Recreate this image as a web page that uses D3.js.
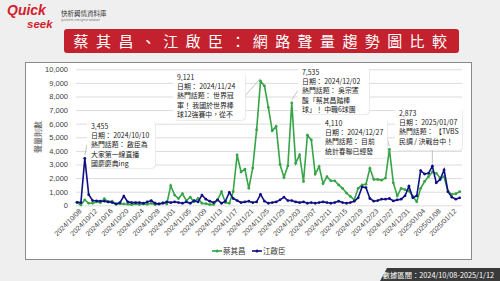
<!DOCTYPE html>
<html lang="zh-Hant">
<head>
<meta charset="UTF-8">
<script src="https://d3js.org/d3.v7.min.js"></script>
<style>
  body { margin: 0; background: #efefef; }
  svg { display: block; font-family: "Noto Sans CJK TC", "Noto Sans", sans-serif; }
</style>
</head>
<body>
<script>
// daily volume, 2024/10/08 .. 2025/01/14
var tsai = [200, 30, 400, 150, 150, 250, 200, 480, 250, 300,
            80, 120, 100, 80, 50, 100, 60, 100, 80, 150,
            50, 100, 200, 100, 1450, 750, 500, 850, 350, 600,
            250, 500, 150, 120, 50, 60, 400, 1000, 200, 150,
            1000, 3700, 2450, 2650, 1250, 2750, 5550, 9121, 8780, 7200,
            5480, 5800, 3000, 2050, 2900, 7535, 3100, 3700, 1750, 5150,
            4800, 2300, 2850, 1600, 2100, 1800, 1800, 1500, 1250, 900,
            650, 400, 1250, 1500, 1550, 2720, 1900, 1900, 1850, 2000,
            4110, 1650, 700, 1250, 1150, 1050, 650, 270, 1250, 1750,
            2100, 2450, 2350, 2000, 2100, 1000, 800, 850, 1000];
var chiang = [220, 200, 3455, 780, 350, 330, 300, 300, 250, 200,
              100, 200, 680, 250, 200, 200, 200, 150, 250, 350,
              150, 100, 150, 250, 200, 250, 200, 150, 250, 150,
              350, 250, 750, 450, 300, 200, 400, 150, 300, 950,
              500, 350, 200, 250, 300, 200, 250, 800, 300, 150,
              200, 250, 400, 600, 350, 350, 250, 200, 250, 150,
              200, 150, 200, 250, 200, 150, 200, 300, 200, 150,
              200, 300, 550, 1350, 1300, 500, 300, 350, 450, 450,
              500, 320, 400, 450, 700, 1400, 550, 700, 2550, 2300,
              2350, 2873, 1650, 1900, 2600, 1000, 600, 450, 550];
var yTicks = [0, 1000, 2000, 3000, 4000, 5000, 6000, 7000, 8000, 9000, 10000];
var seriesNames = ['蔡其昌', '江啟臣'];
var seriesColors = ['#36a447', '#101084'];

var start = new Date(2024, 9, 8);
var dates = tsai.map(function(d, i) { return d3.timeDay.offset(start, i); });
var fmt = d3.timeFormat('%Y/%m/%d');
var labels = dates.map(fmt);

var notes = [
  {i: 2,  s: 1, box: [87, 121, 68, 47],  lines: ['3,455', '日期： 2024/10/10', '熱門話題： 啟臣為', '大家第一線直播', '國慶慶典ing']},
  {i: 47, s: 0, box: [173, 72, 72, 48],  lines: ['9,121', '日期： 2024/11/24', '熱門話題： 世界冠', '軍！ 我國於世界棒', '球12強賽中，從不']},
  {i: 55, s: 0, box: [298, 67, 71, 47],  lines: ['7,535', '日期： 2024/12/02', '熱門話題： 吳宗憲', '酸「蔡其昌踏棒', '球」！ 中職6球團']},
  {i: 80, s: 0, box: [321, 118, 66, 40], lines: ['4,110', '日期： 2024/12/27', '熱門話題： 目前', '統計春聯已經發']},
  {i: 91, s: 1, box: [395, 108, 67, 42], lines: ['2,873', '日期： 2025/01/07', '熱門話題： 【TVBS', '民調 / 決戰台中！']}
];

var width = 500, height = 281;
var svg = d3.select('body').append('svg').attr('width', width).attr('height', height);

// logo
var logo = svg.append('g');
logo.append('text').attr('x', 7).attr('y', 15).attr('fill', '#d4202c')
  .attr('font-family', 'Liberation Sans, sans-serif').attr('font-weight', 'bold')
  .attr('font-style', 'italic').attr('font-size', 14).text('Quick');
logo.append('text').attr('x', 27).attr('y', 27.5).attr('fill', '#d4202c')
  .attr('font-family', 'Liberation Sans, sans-serif').attr('font-weight', 'bold')
  .attr('font-style', 'italic').attr('font-size', 11.5).text('seek');
logo.append('text').attr('x', 61).attr('y', 16).attr('font-size', 6.5).attr('fill', '#333').text('快析輿情資料庫');
logo.append('text').attr('x', 61).attr('y', 21).attr('font-size', 2.6).attr('fill', '#777').text('QuickseeK Intelligence database');

// title bar
svg.append('rect').attr('x', 64).attr('y', 29).attr('width', 395).attr('height', 24)
  .attr('rx', 3).attr('fill', '#c4212e');
svg.append('text').attr('x', 264).attr('y', 46.5).attr('text-anchor', 'middle')
  .attr('fill', '#fff').attr('font-size', 15).attr('letter-spacing', 7.4)
  .text('蔡其昌、江啟臣：網路聲量趨勢圖比較');

// chart box
svg.append('rect').attr('x', 25.5).attr('y', 62.5).attr('width', 446).attr('height', 197)
  .attr('fill', '#fff').attr('stroke', '#8a8a8a').attr('stroke-width', 1);

var x = d3.scalePoint().domain(labels).range([77, 459.7]);
var y = d3.scaleLinear().domain([0, 10000]).range([205.3, 69.3]);

var yAxis = d3.axisLeft(y).tickValues(yTicks).tickSize(-386).tickFormat(d3.format(','));
svg.append('g').attr('transform', 'translate(76,0)').call(yAxis)
  .call(function(g) {
    g.select('.domain').remove();
    g.selectAll('.tick line').attr('stroke', '#dcdcdc');
    g.selectAll('.tick text').attr('x', -8).attr('font-size', 7.5).attr('fill', '#404040')
      .attr('font-family', 'Liberation Sans, sans-serif');
  });

var xAxis = d3.axisBottom(x).tickValues(labels.filter(function(d, i) { return i % 4 === 0 && i <= 96; })).tickSize(0);
svg.append('g').attr('transform', 'translate(0,207)').call(xAxis)
  .call(function(g) {
    g.select('.domain').remove();
    g.selectAll('.tick text').attr('font-size', 7).attr('fill', '#404040')
      .attr('font-family', 'Liberation Sans, sans-serif')
      .attr('text-anchor', 'end').attr('dy', '0.3em')
      .attr('transform', 'translate(1,1) rotate(-45)');
  });

svg.append('text').attr('transform', 'translate(41,137) rotate(-90)')
  .attr('text-anchor', 'middle').attr('font-size', 8).attr('fill', '#404040').text('聲量則數');

// lines
var line = d3.line().x(function(d, i) { return x(labels[i]); }).y(function(d) { return y(d); });
[tsai, chiang].forEach(function(data, k) {
  svg.append('path').datum(data).attr('d', line).attr('fill', 'none')
    .attr('stroke', seriesColors[k]).attr('stroke-width', 1.6);
  svg.append('g').selectAll('circle').data(data).enter().append('circle')
    .attr('cx', function(d, i) { return x(labels[i]); })
    .attr('cy', function(d) { return y(d); })
    .attr('r', 1.4).attr('fill', seriesColors[k]);
});

// callouts
var series = [tsai, chiang];
notes.forEach(function(n) {
  var px = x(labels[n.i]), py = y(series[n.s][n.i]);
  var b = n.box;
  var bx = Math.max(b[0], Math.min(px, b[0] + b[2]));
  var by = b[1] + b[3];
  if (py < b[1] + b[3] && py > b[1]) by = b[1] + b[3] / 2;
  if (py < b[1]) by = b[1];
  svg.append('line').attr('x1', px).attr('y1', py - 3).attr('x2', bx).attr('y2', by)
    .attr('stroke', '#aaa').attr('stroke-width', 0.7);
  svg.append('rect').attr('x', b[0] + 0.8).attr('y', b[1] + 0.8).attr('width', b[2]).attr('height', b[3])
    .attr('rx', 4).attr('fill', '#e6e6e6');
  svg.append('rect').attr('x', b[0]).attr('y', b[1]).attr('width', b[2]).attr('height', b[3])
    .attr('rx', 4).attr('fill', '#fff');
  n.lines.forEach(function(s, j) {
    svg.append('text').attr('font-size', 6.9).attr('fill', '#222')
      .attr('x', b[0] + 4).attr('y', b[1] + 8 + j * 9.2).text(s);
  });
});

// legend
var legend = svg.append('g').selectAll('g').data(seriesNames).enter().append('g')
  .attr('transform', function(d, i) { return 'translate(' + (212 + i * 40) + ',251)'; });
legend.append('line').attr('x1', 0).attr('x2', 10).attr('stroke', function(d, i) { return seriesColors[i]; })
  .attr('stroke-width', 1.6);
legend.append('circle').attr('cx', 5).attr('r', 1.5).attr('fill', function(d, i) { return seriesColors[i]; });
legend.append('text').attr('x', 11).attr('y', 3).attr('font-size', 7.5).attr('fill', '#333').text(function(d) { return d; });

// data range tab
svg.append('path').attr('d', 'M380,281 L387,268 L500,268 L500,281 Z').attr('fill', '#3a3a3a');
svg.append('text').attr('x', 494).attr('y', 277.5).attr('text-anchor', 'end')
  .attr('font-size', 7.3).attr('fill', '#fff').text('數據區間：2024/10/08-2025/1/12');
</script>
</body>
</html>
